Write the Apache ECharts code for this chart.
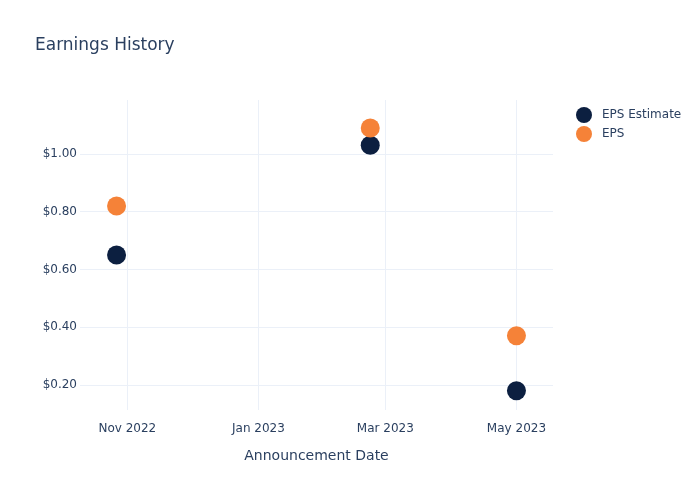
<!DOCTYPE html>
<html>
<head>
<meta charset="utf-8">
<script src="https://cdn.jsdelivr.net/npm/echarts@6/dist/echarts.min.js"></script>
<style>html,body{margin:0;padding:0;background:#fff}#c{width:700px;height:500px}</style>
</head>
<body>
<div id="c"></div>
<script>
const dates = ['2022-10-27', '2023-02-22', '2023-05-01'];
const epsEstimate = [0.65, 1.03, 0.18];
const eps = [0.82, 1.09, 0.37];
const xTicks = ['2022-11-01', '2023-01-01', '2023-03-01', '2023-05-01'];
const yTicks = [0.2, 0.4, 0.6, 0.8, 1.0];
const months = ['Jan','Feb','Mar','Apr','May','Jun','Jul','Aug','Sep','Oct','Nov','Dec'];

const ts = d => new Date(d + 'T00:00:00Z').getTime();
const textColor = '#2a3f5f';
const gridColor = '#ebf0f8';
const font = '"DejaVu Sans", sans-serif';

const chart = echarts.init(document.getElementById('c'), null, {renderer: 'canvas'});
chart.setOption({
  animation: false,
  backgroundColor: '#fff',
  title: {
    text: 'Earnings History',
    left: 30, top: 32,
    textStyle: {color: textColor, fontSize: 17, fontWeight: 'normal', fontFamily: font}
  },
  legend: {
    orient: 'vertical',
    left: 571, top: 102,
    itemWidth: 26, itemHeight: 16, itemGap: 3,
    icon: 'circle',
    textStyle: {color: textColor, fontSize: 12, fontFamily: font},
    data: ['EPS Estimate', 'EPS']
  },
  grid: {left: 80, right: 147, top: 100, bottom: 90, containLabel: false},
  xAxis: {
    type: 'value',
    min: ts('2022-10-10'),
    max: ts('2023-05-18'),
    name: 'Announcement Date',
    nameLocation: 'middle',
    nameGap: 39,
    nameTextStyle: {color: textColor, fontSize: 14, fontFamily: font},
    axisLine: {show: false},
    axisTick: {show: false, customValues: xTicks.map(ts)},
    axisLabel: {
      customValues: xTicks.map(ts),
      color: textColor, fontSize: 12, margin: 13,
      fontFamily: font,
      formatter: v => { const d = new Date(v); return months[d.getUTCMonth()] + ' ' + d.getUTCFullYear(); }
    },
    splitLine: {show: true, lineStyle: {color: gridColor, width: 1}}
  },
  yAxis: {
    type: 'value',
    min: 0.113,
    max: 1.187,
    axisLine: {show: false},
    axisTick: {show: false, customValues: yTicks},
    axisLabel: {
      customValues: yTicks,
      color: textColor, fontSize: 12, margin: 3,
      fontFamily: font,
      formatter: v => '$' + v.toFixed(2)
    },
    splitLine: {show: true, lineStyle: {color: gridColor, width: 1}}
  },
  series: [
    {
      name: 'EPS Estimate', type: 'scatter', symbolSize: 19,
      itemStyle: {color: '#0c1f40', opacity: 1},
      data: dates.map((d, i) => [ts(d), epsEstimate[i]])
    },
    {
      name: 'EPS', type: 'scatter', symbolSize: 19,
      itemStyle: {color: '#f58238', opacity: 1},
      data: dates.map((d, i) => [ts(d), eps[i]])
    }
  ]
});
</script>
</body>
</html>
